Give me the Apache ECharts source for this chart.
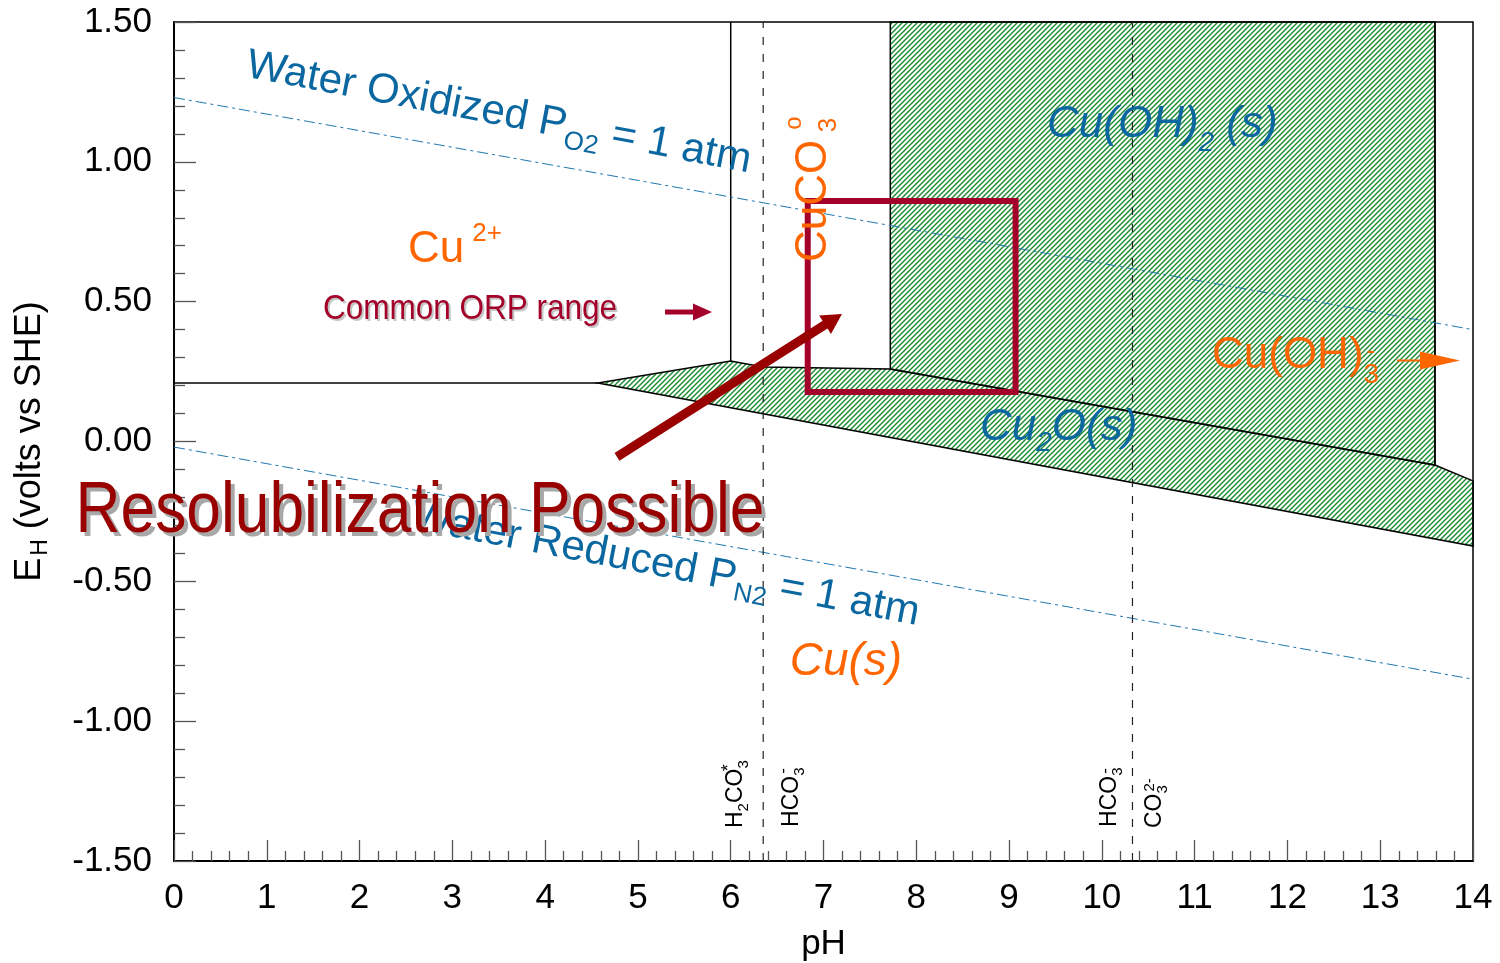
<!DOCTYPE html>
<html>
<head>
<meta charset="utf-8">
<script src="https://cdn.jsdelivr.net/npm/echarts@6/dist/echarts.min.js"></script>
<style>
  html, body { margin: 0; padding: 0; background: #fff; }
  #chart { width: 1500px; height: 963px; }
</style>
</head>
<body>
<div id="chart"></div>
<script>
// Eh–pH stability fields of copper in a carbonate-bearing water

// Axis extents
const phRange = [0, 14];
const ehRange = [-1.5, 1.5];

// Water stability limits (volts vs SHE)
const waterOxidizedLine = [[0, 1.23], [14, 0.40]];
const waterReducedLine = [[0, -0.02], [14, -0.85]];

// Solid phase fields: [pH, Eh] vertices
const cu2oField = [[4.57, 0.209], [6.0, 0.288], [6.35, 0.266], [7.72, 0.259], [13.59, -0.084], [14, -0.141], [14, -0.374]];
const cuOH2Field = [[7.72, 1.5], [13.59, 1.5], [13.59, -0.084], [7.72, 0.259]];

// Boundaries between dissolved species
const cuIonMetalEdge = [[0, 0.209], [4.57, 0.209]];
const cuIonCarbonateEdge = [[6.0, 1.5], [6.0, 0.288]];
const cuOH3Edge = [[13.59, 1.5], [13.59, -0.084]];

// Carbonate speciation pKa values
const carbonatePKa = [6.35, 10.33];

// Typical ORP window
const orpRangePH = [6.83, 9.07];
const orpRangeEh = [0.177, 0.86];

const FONT = '"Liberation Sans", Arial, Helvetica, sans-serif';
const BLUE = '#0b67a0';
const ORANGE = '#ff6600';
const CRIMSON = '#a3002a';
const DARKRED = '#990000';
const DEG = Math.PI / 180;

// Text annotations anchored in (pH, Eh)
const annotations = [
  { at: [0.787, 1.346], text: '{m|Water Oxidized P}{sub|O2}{m| = 1 atm}', size: 42, sub: 26, shift: 15, color: BLUE, rot: -10.8, align: 'left' },
  { at: [2.565, -0.270], text: '{m|Water Reduced P}{sub|N2}{m| = 1 atm}', size: 42, sub: 26, shift: 14, color: BLUE, rot: -10.8, align: 'left' },
  { at: [2.522, 0.685], text: '{m|Cu}{sup|2+}', size: 44, sub: 26, shift: 16, gap: 8, color: ORANGE, align: 'left' },
  { at: [6.897, 0.642], text: '{m|CuCO}', size: 44, color: ORANGE, rot: 90, align: 'left' },
  { at: [7.059, 1.132], text: '{m|3}', size: 26, color: ORANGE, rot: 90, align: 'center' },
  { at: [6.682, 1.139], text: '{m|o}', size: 24, color: ORANGE, rot: 90, align: 'center' },
  { at: [9.409, 1.132], text: '{m|Cu(OH)}{sub|2}{m| (s)}', size: 44, sub: 28, shift: 18, color: BLUE, italic: true, align: 'left' },
  { at: [8.687, 0.048], text: '{m|Cu}{sub|2}{m|O(s)}', size: 44, sub: 28, shift: 15, color: BLUE, italic: true, align: 'left' },
  { at: [11.187, 0.306], text: '{m|Cu(OH)}{sub|3}', size: 44, sub: 28, shift: 19, color: ORANGE, align: 'left' },
  { at: [12.90, 0.320], text: '{m|-}', size: 26, color: ORANGE, align: 'center' },
  { at: [7.242, -0.788], text: '{m|Cu(s)}', size: 46, color: ORANGE, italic: true, align: 'center' },
  { at: [6.052, -1.382], text: '{m|H}{sub|2}{m|CO}{sub|3}', size: 23, sub: 15, shift: 8, color: '#000', rot: 90, align: 'left' },
  { at: [5.981, -1.167], text: '{m|*}', size: 18, color: '#000', rot: 90, align: 'center' },
  { at: [6.655, -1.378], text: '{m|HCO}{sub|3}', size: 23, sub: 15, shift: 8, color: '#000', rot: 90, align: 'left' },
  { at: [6.568, -1.178], text: '{m|-}', size: 17, color: '#000', rot: 90, align: 'center' },
  { at: [10.082, -1.378], text: '{m|HCO}{sub|3}', size: 23, sub: 15, shift: 8, color: '#000', rot: 90, align: 'left' },
  { at: [10.034, -1.178], text: '{m|-}', size: 17, color: '#000', rot: 90, align: 'center' },
  { at: [10.573, -1.382], text: '{m|CO}{sub|3}', size: 23, sub: 15, shift: 8, color: '#000', rot: 90, align: 'left' },
  { at: [10.519, -1.228], text: '{m|2-}', size: 15, color: '#000', rot: 90, align: 'center' },
  { at: [3.190, 0.474], text: '{m|Common ORP range}', size: 35, color: CRIMSON, align: 'center', shadow: ['#c4c4c4', 2, 2], scaleX: 0.9 },
  { at: [2.651, -0.252], text: '{m|Resolubilization Possible}', size: 72, color: DARKRED, align: 'center', shadow: ['#a8a8a8', 4, 4], scaleX: 0.865 }
];

// Arrows: from / to in (pH, Eh), pixel thickness and head size
const arrows = [
  { from: [4.774, -0.055], to: [7.199, 0.456], width: 9, headLen: 20, headWidth: 22, color: DARKRED },
  { from: [5.292, 0.463], to: [5.798, 0.463], width: 5, headLen: 19, headWidth: 17, color: CRIMSON },
  { from: [13.181, 0.2896], to: [13.860, 0.2896], width: 2, headLen: 40, headWidth: 18, color: ORANGE }
];

function hatchPattern() {
  const c = document.createElement('canvas');
  c.width = 5; c.height = 5;
  const g = c.getContext('2d');
  g.strokeStyle = '#178a2c';
  g.lineWidth = 1.4;
  g.beginPath();
  g.moveTo(-1, 6); g.lineTo(6, -1);
  g.moveTo(-1, 1); g.lineTo(1, -1);
  g.moveTo(4, 6); g.lineTo(6, 4);
  g.stroke();
  return c;
}
const hatch = { type: 'pattern', image: hatchPattern(), repeat: 'repeat' };

function richFor(a) {
  const base = { fontFamily: FONT, fontStyle: a.italic ? 'italic' : 'normal', fill: a.color };
  if (a.shadow) {
    base.textShadowColor = a.shadow[0];
    base.textShadowOffsetX = a.shadow[1];
    base.textShadowOffsetY = a.shadow[2];
    base.textShadowBlur = 0.5;
  }
  const subSize = a.sub || a.size * 0.6;
  const shift = a.shift || 0;
  return {
    m: Object.assign({}, base, { fontSize: a.size }),
    sub: Object.assign({}, base, { fontSize: subSize, padding: [shift * 2, 0, 0, 0] }),
    sup: Object.assign({}, base, { fontSize: subSize, padding: [0, 0, shift * 2, a.gap || 0] })
  };
}

function polygonSeries(points) {
  return {
    type: 'custom',
    silent: true,
    z: 1,
    data: [[points[0][0], points[0][1]]],
    renderItem: function (params, api) {
      return {
        type: 'polygon',
        shape: { points: points.map(function (p) { return api.coord(p); }) },
        style: { fill: hatch, stroke: '#000', lineWidth: 1.5 }
      };
    }
  };
}

function lineSeries(data, style, z) {
  return {
    type: 'line',
    data: data,
    symbol: 'none',
    silent: true,
    z: z,
    lineStyle: style,
    animation: false
  };
}

const boundaryStyle = { color: '#000', width: 1.5 };
const waterStyle = { color: '#1f78b0', width: 1, type: [11, 4, 3, 4] };
const pkaStyle = { color: '#222', width: 1.2, type: [8, 9] };

const series = [
  polygonSeries(cu2oField),
  polygonSeries(cuOH2Field),
  lineSeries(cuIonMetalEdge, boundaryStyle, 2),
  lineSeries(cuIonCarbonateEdge, boundaryStyle, 2),
  lineSeries(cuOH3Edge, boundaryStyle, 2),
  lineSeries(waterOxidizedLine, waterStyle, 3),
  lineSeries(waterReducedLine, waterStyle, 3)
];
carbonatePKa.forEach(function (pk) {
  series.push(lineSeries([[pk, ehRange[0]], [pk, ehRange[1]]], pkaStyle, 3));
});

// ORP window box
series.push({
  type: 'custom',
  silent: true,
  z: 4,
  data: [[orpRangePH[0], orpRangeEh[0], orpRangePH[1], orpRangeEh[1]]],
  renderItem: function (params, api) {
    const a = api.coord([api.value(0), api.value(3)]);
    const b = api.coord([api.value(2), api.value(1)]);
    return {
      type: 'rect',
      shape: { x: a[0], y: a[1], width: b[0] - a[0], height: b[1] - a[1] },
      style: { fill: 'none', stroke: CRIMSON, lineWidth: 6 }
    };
  }
});

// Arrows
series.push({
  type: 'custom',
  silent: true,
  clip: false,
  z: 5,
  data: arrows.map(function (a) { return [a.from[0], a.from[1], a.to[0], a.to[1]]; }),
  renderItem: function (params, api) {
    const a = arrows[params.dataIndex];
    const p0 = api.coord([api.value(0), api.value(1)]);
    const p1 = api.coord([api.value(2), api.value(3)]);
    const dx = p1[0] - p0[0], dy = p1[1] - p0[1];
    const len = Math.sqrt(dx * dx + dy * dy);
    const ux = dx / len, uy = dy / len;
    const nx = -uy, ny = ux;
    const bx = p1[0] - ux * a.headLen, by = p1[1] - uy * a.headLen;
    const hw = a.headWidth / 2;
    return {
      type: 'group',
      children: [
        { type: 'line', shape: { x1: p0[0], y1: p0[1], x2: bx + ux, y2: by + uy }, style: { stroke: a.color, lineWidth: a.width } },
        { type: 'polygon', shape: { points: [[p1[0], p1[1]], [bx + nx * hw, by + ny * hw], [bx - nx * hw, by - ny * hw]] }, style: { fill: a.color } }
      ]
    };
  }
});

// Text annotations
series.push({
  type: 'custom',
  silent: true,
  clip: false,
  z: 6,
  data: annotations.map(function (a) { return a.at; }),
  renderItem: function (params, api) {
    const a = annotations[params.dataIndex];
    const p = api.coord([api.value(0), api.value(1)]);
    const style = {
      text: a.text,
      rich: richFor(a),
      fill: a.color,
      fontFamily: FONT,
      fontSize: a.size,
      fontStyle: a.italic ? 'italic' : 'normal',
      align: a.align || 'left',
      verticalAlign: 'middle'
    };
    if (a.shadow) {
      style.textShadowColor = a.shadow[0];
      style.textShadowOffsetX = a.shadow[1];
      style.textShadowOffsetY = a.shadow[2];
      style.textShadowBlur = 0.5;
    }
    return {
      type: 'text',
      x: p[0],
      y: p[1],
      rotation: (a.rot || 0) * DEG,
      scaleX: a.scaleX || 1,
      style: style
    };
  }
});

const tickLine = { color: '#555', width: 1.3 };

const option = {
  animation: false,
  backgroundColor: '#fff',
  grid: {
    left: 174, right: 27, top: 22, bottom: 102,
    outerBoundsMode: 'none',
    containLabel: false,
    show: true, borderColor: '#000', borderWidth: 1.5, backgroundColor: 'transparent'
  },
  xAxis: {
    type: 'value',
    min: phRange[0],
    max: phRange[1],
    interval: 1,
    name: 'pH',
    nameLocation: 'middle',
    nameGap: 66,
    nameTextStyle: { fontFamily: FONT, fontSize: 35, color: '#000' },
    axisLine: { onZero: false, lineStyle: { color: '#000', width: 2 } },
    axisTick: { inside: true, length: 21, lineStyle: tickLine },
    minorTick: { show: true, splitNumber: 5, length: 10, lineStyle: tickLine },
    splitLine: { show: false },
    axisLabel: { fontFamily: FONT, fontSize: 35, color: '#000', margin: 20 }
  },
  yAxis: {
    type: 'value',
    min: ehRange[0],
    max: ehRange[1],
    interval: 0.5,
    name: '{e|E}{h|H}{e| (volts vs SHE)}',
    nameLocation: 'middle',
    nameRotate: 90,
    nameGap: 122,
    nameTextStyle: {
      color: '#000',
      rich: {
        e: { fontFamily: FONT, fontSize: 36, color: '#000' },
        h: { fontFamily: FONT, fontSize: 23, color: '#000', padding: [20, 0, 0, 2] }
      }
    },
    axisLine: { onZero: false, lineStyle: { color: '#000', width: 2 } },
    axisTick: { inside: true, length: 22, lineStyle: tickLine },
    minorTick: { show: true, splitNumber: 5, length: 11, lineStyle: tickLine },
    splitLine: { show: false },
    axisLabel: {
      fontFamily: FONT, fontSize: 35, color: '#000', margin: 22,
      formatter: function (v) { return v.toFixed(2); }
    }
  },
  series: series
};

const chart = echarts.init(document.getElementById('chart'), null, { renderer: 'canvas' });
chart.setOption(option);
</script>
</body>
</html>
